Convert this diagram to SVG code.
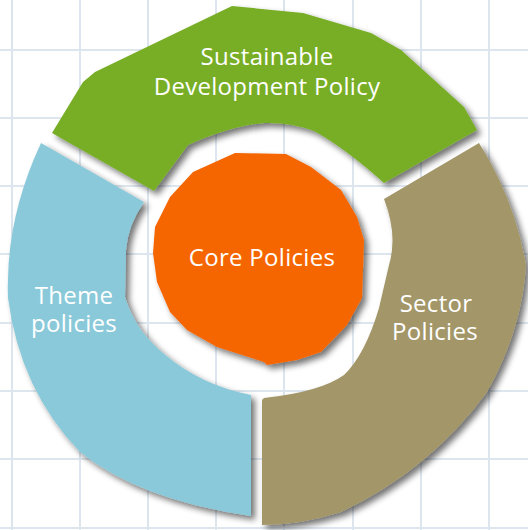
<svg xmlns="http://www.w3.org/2000/svg" width="528" height="530" viewBox="0 0 528 530">
<defs>
<filter id="sh" x="-10%" y="-10%" width="130%" height="130%">
<feGaussianBlur in="SourceAlpha" stdDeviation="3"/>
<feOffset dx="4" dy="4" result="b"/>
<feComponentTransfer><feFuncA type="linear" slope="0.55"/></feComponentTransfer>
<feMerge><feMergeNode/><feMergeNode in="SourceGraphic"/></feMerge>
</filter>
</defs>
<style>
.grid line{stroke:#dde6ef;stroke-width:2}
.seg{filter:url(#sh);stroke-linejoin:round}
.lbl{font-family:"Open Sans","Noto Sans",sans-serif;font-size:24px;letter-spacing:0.3px;fill:#ffffff;text-anchor:middle}
</style>
<rect width="528" height="530" fill="#ffffff"/>
<g class="grid">
<line x1="12" y1="0" x2="12" y2="530"/><line x1="80" y1="0" x2="80" y2="530"/><line x1="148" y1="0" x2="148" y2="530"/><line x1="216" y1="0" x2="216" y2="530"/><line x1="284" y1="0" x2="284" y2="530"/><line x1="353" y1="0" x2="353" y2="530"/><line x1="421" y1="0" x2="421" y2="530"/><line x1="489" y1="0" x2="489" y2="530"/>
<line x1="0" y1="50" x2="528" y2="50"/><line x1="0" y1="118" x2="528" y2="118"/><line x1="0" y1="186" x2="528" y2="186"/><line x1="0" y1="254" x2="528" y2="254"/><line x1="0" y1="323" x2="528" y2="323"/><line x1="0" y1="391" x2="528" y2="391"/><line x1="0" y1="459" x2="528" y2="459"/><line x1="0" y1="528" x2="528" y2="528"/>
</g>
<g id="connectors"></g>
<g id="sustainable">
<path class="seg" fill="#78ae28" d="M52,133 L83,82 L95,72 L232,6 L303,13 L371,33 L401,50 L464,107 L477,130 L384,183 Q345,148 314,131 Q290,122 264,123 Q230,126 188,145 L154,191 Z"/>
<text class="lbl" x="267" y="65">Sustainable</text>
<text class="lbl" x="267" y="95">Development Policy</text>
</g>
<g id="theme">
<path class="seg" fill="#8ac9d9" d="M41,143 L144,202 Q128,225 126,250 L125,297 Q135,330 163,353 Q200,385 251,395 L251,516 Q140,500 80,452 Q20,390 8,298 Q5,220 41,143 Z"/>
<text class="lbl" x="74" y="304">Theme</text>
<text class="lbl" x="74" y="332">policies</text>
</g>
<g id="sector">
<path class="seg" fill="#a39668" d="M384,199 L479,143 Q515,200 526,265 Q522,330 487,392 Q430,470 341,512 Q300,525 262,525 L262,400 L264,398 Q320,392 344,375 Q365,355 379,308 L389,265 Q398,235 384,199 Z"/>
<text class="lbl" x="436" y="312">Sector</text>
<text class="lbl" x="435" y="340">Policies</text>
</g>
<g id="core">
<polygon class="seg" fill="#f56600" points="235,153 286,154 311,167 341,190 357,217 364,240 362,298 347,325 321,352 297,360 267,365 264,362 217,347 187,330 170,312 157,282 153,253 155,227 170,197 193,172"/>
<text class="lbl" x="262" y="266">Core Policies</text>
</g>
</svg>
